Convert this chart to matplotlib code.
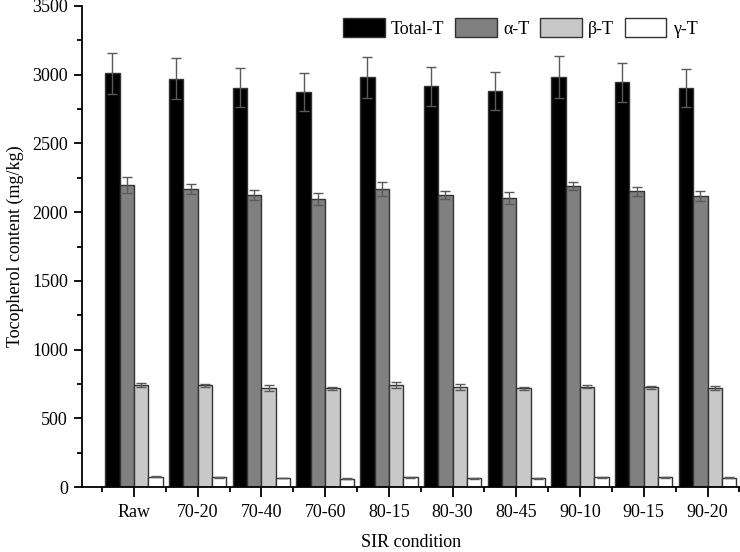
import matplotlib
matplotlib.use("Agg")
import matplotlib.pyplot as plt
import numpy as np
from matplotlib.ticker import MultipleLocator, FixedLocator

plt.rcParams['font.family'] = ['Liberation Serif', 'DejaVu Serif']

conditions = ["Raw", "70-20", "70-40", "70-60", "80-15", "80-30", "80-45", "90-10", "90-15", "90-20"]
series_names = ["Total-T", "α-T", "β-T", "γ-T"]

total_t = [3010, 2971, 2906, 2874, 2981, 2916, 2881, 2983, 2945, 2903]
total_err = [150, 148, 143, 141, 148, 142, 141, 151, 143, 141]
alpha_t = [2197, 2166, 2122, 2096, 2171, 2125, 2101, 2188, 2152, 2117]
alpha_err = [57, 37, 37, 45, 50, 31, 43, 29, 33, 35]
beta_t = [745, 740, 722, 718, 745, 728, 718, 730, 725, 722]
beta_err = [15, 12, 20, 12, 22, 20, 10, 10, 10, 15]
gamma_t = [75, 70, 65, 60, 72, 63, 62, 70, 72, 68]
gamma_err = [3, 3, 3, 3, 3, 3, 3, 3, 3, 3]

values = [total_t, alpha_t, beta_t, gamma_t]
errors = [total_err, alpha_err, beta_err, gamma_err]
colors = ["#000000", "#808080", "#c8c8c8", "#ffffff"]

fig = plt.figure(figsize=(7.4, 5.52), dpi=100)
ax = fig.add_axes([82/740, 65/552, 1 - 82/740, (487-6)/552])

x = np.arange(len(conditions))
w = 0.225
for i, (vals, errs, c, name) in enumerate(zip(values, errors, colors, series_names)):
    ax.bar(x + (i - 1.5) * w, vals, w, color=c, edgecolor="#333333", linewidth=1.0,
           label=name, zorder=2)
    ax.errorbar(x + (i - 1.5) * w, vals, yerr=errs, fmt='none', ecolor="#5a5a5a",
                elinewidth=1.0, capsize=3.6, capthick=1.0, zorder=3)

ax.set_xlim(-0.816, 9.51)
ax.set_ylim(0, 3500)
ax.set_xticks(x)
ax.set_xticklabels(conditions)
ax.xaxis.set_minor_locator(FixedLocator(np.arange(-0.5, 10, 1.0)))
ax.yaxis.set_major_locator(MultipleLocator(500))
ax.yaxis.set_minor_locator(MultipleLocator(250))

for s in ["top", "right"]:
    ax.spines[s].set_visible(False)
for s in ["left", "bottom"]:
    ax.spines[s].set_linewidth(1.3)

ax.tick_params(axis='x', which='major', direction='out', length=7.5, width=1.3, pad=5, labelsize=13)
ax.tick_params(axis='x', which='minor', direction='out', length=3.5, width=1.3)
ax.tick_params(axis='y', which='major', direction='out', length=6, width=1.3, pad=4, labelsize=13)
ax.tick_params(axis='y', which='minor', direction='out', length=3.5, width=1.3)

ax.set_xlabel("SIR condition", fontsize=13, labelpad=9)
ax.set_ylabel("Tocopherol content (mg/kg)", fontsize=13, labelpad=6)

ax.legend(ncol=4, frameon=False, loc='upper right', bbox_to_anchor=(0.96, 1.008),
          handlelength=2.3, handleheight=1.25, handletextpad=0.35, columnspacing=0.6,
          fontsize=13)

fig.savefig("out.png", dpi=100)
